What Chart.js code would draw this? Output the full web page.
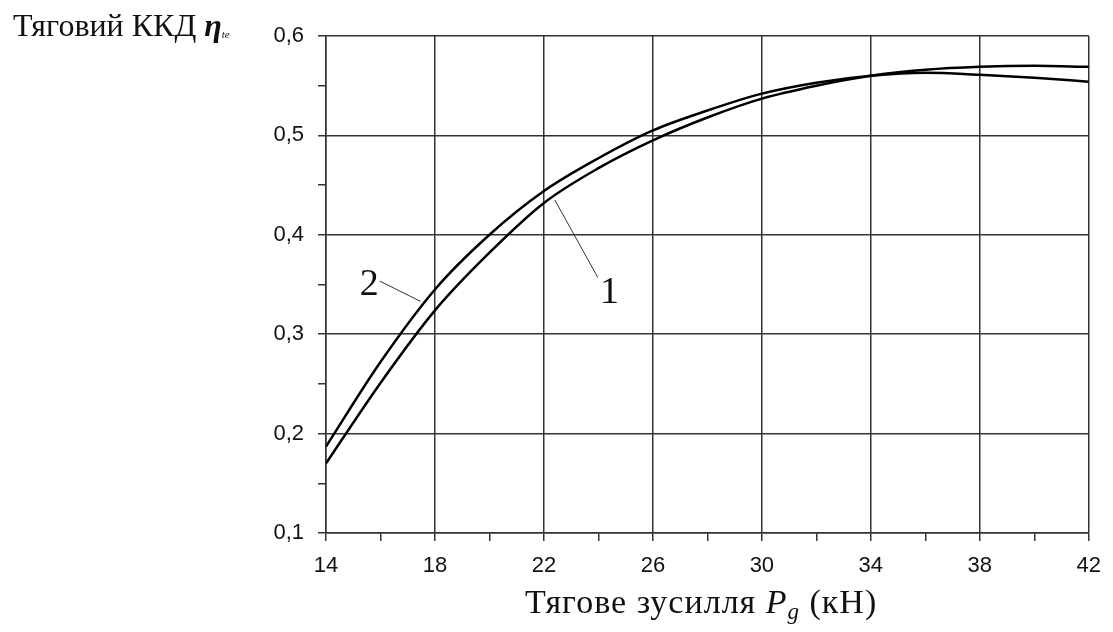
<!DOCTYPE html>
<html>
<head>
<meta charset="utf-8">
<title>Тяговий ККД</title>
<script src="https://cdn.jsdelivr.net/npm/chart.js@4.4.1/dist/chart.umd.min.js"></script>
<style>
    body { margin: 0; background: #fff; }
    #wrap { position: relative; width: 1113px; height: 632px; }
    #yTitle {
        position: absolute; left: 13px; top: 9px;
        font-family: 'Liberation Serif', 'Times New Roman', serif;
        font-size: 32px; line-height: 1; color: #111; white-space: nowrap;
    }
    #yTitle i { font-weight: bold; }
    #yTitle sub { font-size: 11px; font-style: italic; vertical-align: -2px; }
    #xTitle {
        position: absolute; left: 525px; top: 585px;
        font-family: 'Liberation Serif', 'Times New Roman', serif;
        font-size: 34px; line-height: 1; letter-spacing: 1px; color: #111; white-space: nowrap;
    }
    #xTitle sub { font-size: 23px; vertical-align: -6px; }
</style>
</head>
<body>
<div id="wrap">
    <canvas id="myChart" width="1113" height="632"></canvas>
    <div id="yTitle">Тяговий ККД <i>η</i><sub>te</sub></div>
    <div id="xTitle">Тягове зусилля <i>P</i><sub><i>g</i></sub> (кН)</div>
</div>
<script>
// Тягове зусилля, кН
const force = [14, 16, 18, 20, 22, 24, 26, 28, 30, 32, 34, 36, 38, 40, 42];
// curve 1
const eff1 = [0.170, 0.251, 0.324, 0.382, 0.432, 0.467, 0.495, 0.518, 0.537, 0.550, 0.560, 0.566, 0.569, 0.570, 0.569];
// curve 2
const eff2 = [0.187, 0.272, 0.345, 0.400, 0.444, 0.477, 0.505, 0.525, 0.542, 0.553, 0.560, 0.563, 0.561, 0.558, 0.554];

const curveNames = ['1', '2'];
// label text position and leader line end (in data units)
const labelAt = [[24.41, 0.343], [15.59, 0.351]];
const leaderFrom = [[23.98, 0.357], [15.97, 0.3535]];
const leaderTo = [[22.40, 0.435], [17.47, 0.333]];

const gridColor = '#333';
const tickFont = { family: '"Liberation Sans Narrow", "Liberation Sans", Arial, sans-serif', size: 22 };

const isMajorX = (v) => (v - 14) % 4 === 0;
const isMajorY = (v) => Math.abs(v * 10 - Math.round(v * 10)) < 1e-6;

// draws the "1" and "2" marks with their leader lines
const curveLabels = {
    id: 'curveLabels',
    afterDatasetsDraw(chart) {
        const ctx = chart.ctx;
        const x = chart.scales.x;
        const y = chart.scales.y;
        ctx.save();
        ctx.strokeStyle = '#333';
        ctx.lineWidth = 1;
        ctx.fillStyle = '#111';
        ctx.font = '38px "Liberation Serif", serif';
        ctx.textAlign = 'center';
        ctx.textBaseline = 'middle';
        curveNames.forEach((name, i) => {
            ctx.beginPath();
            ctx.moveTo(x.getPixelForValue(leaderFrom[i][0]), y.getPixelForValue(leaderFrom[i][1]));
            ctx.lineTo(x.getPixelForValue(leaderTo[i][0]), y.getPixelForValue(leaderTo[i][1]));
            ctx.stroke();
            ctx.fillText(name, x.getPixelForValue(labelAt[i][0]), y.getPixelForValue(labelAt[i][1]) + 2);
        });
        ctx.restore();
    }
};

const ctx = document.getElementById('myChart').getContext('2d');
const myChart = new Chart(ctx, {
    type: 'line',
    data: {
        datasets: [{
            label: '1',
            data: force.map((f, i) => ({ x: f, y: eff1[i] })),
            borderColor: '#000',
            borderWidth: 2.5,
            pointRadius: 0,
            cubicInterpolationMode: 'monotone',
        }, {
            label: '2',
            data: force.map((f, i) => ({ x: f, y: eff2[i] })),
            borderColor: '#000',
            borderWidth: 2.5,
            pointRadius: 0,
            cubicInterpolationMode: 'monotone',
        }],
    },
    options: {
        responsive: false,
        animation: false,
        layout: { padding: { top: 36, right: 20, left: 0, bottom: 0 } },
        plugins: {
            legend: { display: false },
            tooltip: { enabled: false },
        },
        scales: {
            x: {
                type: 'linear',
                min: 14,
                max: 42,
                afterFit: (s) => { s.height = 99; },
                border: { display: true, color: gridColor, width: 1.5 },
                grid: {
                    color: (c) => isMajorX(c.tick.value) ? gridColor : 'rgba(0,0,0,0)',
                    tickColor: gridColor,
                    lineWidth: 1.5,
                    tickLength: 8,
                },
                ticks: {
                    stepSize: 2,
                    autoSkip: false,
                    maxRotation: 0,
                    padding: 12,
                    color: '#111',
                    font: tickFont,
                    callback: (v) => isMajorX(v) ? String(v) : '',
                },
            },
            y: {
                min: 0.1,
                max: 0.6,
                afterFit: (s) => { s.width = 326; },
                border: { display: true, color: gridColor, width: 1.5 },
                grid: {
                    color: (c) => isMajorY(c.tick.value) ? gridColor : 'rgba(0,0,0,0)',
                    tickColor: gridColor,
                    lineWidth: 1.5,
                    tickLength: 8,
                },
                ticks: {
                    stepSize: 0.05,
                    autoSkip: false,
                    padding: 14,
                    color: '#111',
                    font: tickFont,
                    callback: (v) => isMajorY(v) ? v.toFixed(1).replace('.', ',') : '',
                },
            },
        },
    },
    plugins: [curveLabels],
});
</script>
</body>
</html>
